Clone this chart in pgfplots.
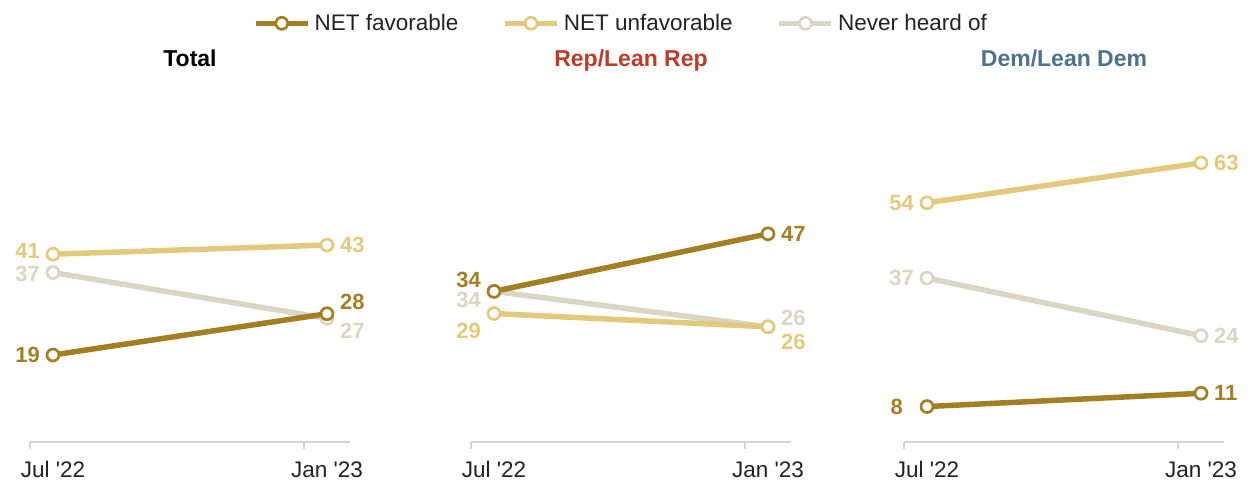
\documentclass[border=0pt]{standalone}
\usepackage{pgfplots}
\pgfplotsset{compat=1.18}
\usepackage{fontspec}
\setmainfont{Liberation Sans}
\definecolor{fav}{RGB}{163,127,35}
\definecolor{unfav}{RGB}{227,201,125}
\definecolor{never}{RGB}{218,214,196}
\definecolor{repc}{RGB}{191,58,40}
\definecolor{demc}{RGB}{79,114,140}
\definecolor{axc}{RGB}{212,212,212}
\definecolor{txt}{RGB}{34,34,34}
\newcommand{\lf}{\fontsize{22}{26}\selectfont}
\newcommand{\tf}{\fontsize{22.5}{27}\selectfont}
\newcommand{\hf}{\fontsize{23}{27}\selectfont}
\tikzset{lab/.style={font=\lf\bfseries, inner sep=0pt}}
\pgfplotsset{
  panel/.style={
    scale only axis, width=320pt,
    xmin=-0.084, xmax=1.084, ymin=0, ymax=70,
    axis x line=bottom, axis y line=none,
    axis line style={draw=axc, line width=1.5pt, -},
    xtick={0,1}, xticklabels={Jul \textquotesingle22, Jan \textquotesingle23},
    major tick length=0pt,
    extra x ticks={-0.084,0.916}, extra x tick labels={},
    extra x tick style={major tick length=7pt, tick align=outside, tick style={draw=axc, line width=1.5pt}},
    xticklabel style={font=\tf, text=txt, inner sep=0pt, anchor=base, yshift=-35pt},
    clip=false,
  },
  favp/.style={color=fav, line width=5.5pt, mark=*, mark size=6pt, mark options={fill=white, line width=2.7pt}},
  unfavp/.style={color=unfav, line width=5.5pt, mark=*, mark size=6pt, mark options={fill=white, line width=2.7pt}},
  neverp/.style={color=never, line width=5.5pt, mark=*, mark size=6pt, mark options={fill=white, line width=2.7pt}},
}
\begin{document}
\begin{tikzpicture}
\useasboundingbox (0,0) rectangle (1251pt,482pt);
% Total
\begin{axis}[panel, height=320.6pt, at={(30pt,40pt)}, anchor=south west,
  legend columns=3, reverse legend,
  legend style={draw=none, fill=none, at={(0.697,1.306)}, anchor=west, inner sep=0pt, outer sep=0pt,
    font=\tf, text=txt,
    nodes={inner sep=0pt},
    /tikz/every odd column/.append style={column sep=4pt},
    /tikz/every even column/.append style={column sep=44pt}},
  legend image code/.code={\draw[mark repeat=2,mark phase=2,#1] plot coordinates {(0pt,0pt) (26pt,0pt) (52pt,0pt)};},
]
\addplot[neverp] coordinates {(0,37) (1,27)};
\addlegendentry{Never heard of}
\addplot[unfavp] coordinates {(0,41) (1,43)};
\addlegendentry{NET unfavorable}
\addplot[favp] coordinates {(0,19) (1,28)};
\addlegendentry{NET favorable}
\node[lab, text=unfav, anchor=east, xshift=-13pt, yshift=3pt] at (axis cs:0,41) {41};
\node[lab, text=never, anchor=east, xshift=-13pt, yshift=-1pt] at (axis cs:0,37) {37};
\node[lab, text=fav, anchor=east, xshift=-13pt] at (axis cs:0,19) {19};
\node[lab, text=unfav, anchor=west, xshift=13pt] at (axis cs:1,43) {43};
\node[lab, text=fav, anchor=west, xshift=13pt, yshift=12pt] at (axis cs:1,28) {28};
\node[lab, text=never, anchor=west, xshift=13pt, yshift=-12pt] at (axis cs:1,27) {27};
\end{axis}
% Rep
\begin{axis}[panel, height=310.1pt, at={(471pt,40pt)}, anchor=south west]
\addplot[neverp] coordinates {(0,34) (1,26)};
\addplot[unfavp] coordinates {(0,29) (1,26)};
\addplot[favp] coordinates {(0,34) (1,47)};
\node[lab, text=fav, anchor=east, xshift=-13pt, yshift=11pt] at (axis cs:0,34) {34};
\node[lab, text=never, anchor=east, xshift=-13pt, yshift=-9pt] at (axis cs:0,34) {34};
\node[lab, text=unfav, anchor=east, xshift=-13pt, yshift=-17pt] at (axis cs:0,29) {29};
\node[lab, text=fav, anchor=west, xshift=13pt] at (axis cs:1,47) {47};
\node[lab, text=never, anchor=west, xshift=13pt, yshift=9pt] at (axis cs:1,26) {26};
\node[lab, text=unfav, anchor=west, xshift=13pt, yshift=-15pt] at (axis cs:1,26) {26};
\end{axis}
% Dem
\begin{axis}[panel, height=310.1pt, at={(904pt,40pt)}, anchor=south west]
\addplot[neverp] coordinates {(0,37) (1,24)};
\addplot[unfavp] coordinates {(0,54) (1,63)};
\addplot[favp] coordinates {(0,8) (1,11)};
\node[lab, text=unfav, anchor=east, xshift=-13pt] at (axis cs:0,54) {54};
\node[lab, text=never, anchor=east, xshift=-13pt] at (axis cs:0,37) {37};
\node[lab, text=fav, anchor=east, xshift=-24pt] at (axis cs:0,8) {8};
\node[lab, text=unfav, anchor=west, xshift=13pt] at (axis cs:1,63) {63};
\node[lab, text=never, anchor=west, xshift=13pt] at (axis cs:1,24) {24};
\node[lab, text=fav, anchor=west, xshift=13pt] at (axis cs:1,11) {11};
\end{axis}
\node[font=\hf\bfseries, text=black, inner sep=0pt, anchor=base] at (190pt,415pt) {Total};
\node[font=\hf\bfseries, text=repc, inner sep=0pt, anchor=base] at (631pt,415pt) {Rep/Lean Rep};
\node[font=\hf\bfseries, text=demc, inner sep=0pt, anchor=base] at (1064pt,415pt) {Dem/Lean Dem};
\end{tikzpicture}
\end{document}
